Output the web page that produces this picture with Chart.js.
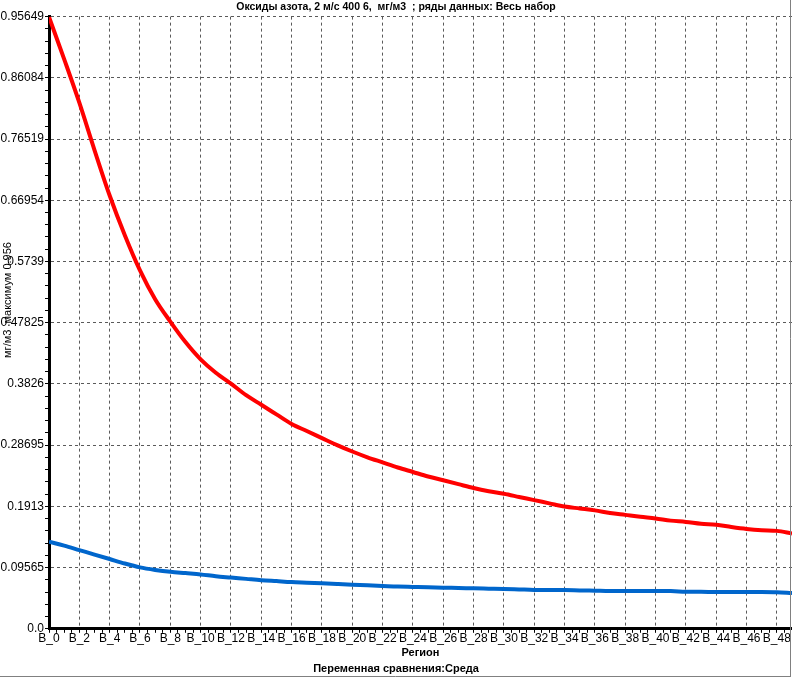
<!DOCTYPE html>
<html>
<head>
<meta charset="utf-8">
<script src="https://cdn.jsdelivr.net/npm/chart.js@4/dist/chart.umd.min.js"></script>
<style>
  html, body { margin: 0; padding: 0; background: #fff; }
  #wrap { width: 792px; height: 677px; }
</style>
</head>
<body>
<div id="wrap"><canvas id="nox-chart" width="792" height="677"></canvas></div>
<script>
// Data
const categories = Array.from({ length: 50 }, (_, i) => "B_" + i);

const noxMax = [
  0.956, 0.89, 0.822, 0.748, 0.677, 0.615, 0.56, 0.515, 0.48, 0.448,
  0.421, 0.4, 0.383, 0.365, 0.35, 0.335, 0.32, 0.309, 0.298, 0.287,
  0.277, 0.268, 0.26, 0.252, 0.245, 0.238, 0.232, 0.226, 0.22, 0.215,
  0.211, 0.206, 0.201, 0.196, 0.191, 0.188, 0.185, 0.181, 0.178, 0.175,
  0.1725, 0.169, 0.167, 0.164, 0.1625, 0.159, 0.156, 0.154, 0.153, 0.149,
];

const noxMin = [
  0.136, 0.13, 0.123, 0.116, 0.109, 0.102, 0.096, 0.092, 0.089, 0.087,
  0.085, 0.082, 0.08, 0.078, 0.076, 0.0745, 0.073, 0.072, 0.071, 0.07,
  0.069, 0.068, 0.067, 0.066, 0.0655, 0.065, 0.0643, 0.0638, 0.0632, 0.0627,
  0.0622, 0.0615, 0.0608, 0.0607, 0.0606, 0.06, 0.0595, 0.059, 0.059, 0.059,
  0.059, 0.059, 0.0578, 0.0577, 0.0576, 0.0575, 0.0575, 0.0574, 0.057, 0.056,
];

const yTickValues = [0, 0.09565, 0.1913, 0.28695, 0.3826, 0.47825, 0.5739, 0.66954, 0.76519, 0.86084, 0.95649];
const yTickLabels = ["0.0", "0.09565", "0.1913", "0.28695", "0.3826", "0.47825", "0.5739", "0.66954", "0.76519", "0.86084", "0.95649"];

const titleText = "Оксиды азота, 2 м/с 400 6,  мг/м3  ; ряды данных: Весь набор";
const yTitle = "мг/м3  максимум 0.956";
const xTitle = "Регион";
const footText = "Переменная сравнения:Среда";

const FONT = "'Liberation Sans', Arial, sans-serif";
const GRID = "#5a5a5a";

// minor ticks: 5 steps between y labels, every half category on x
const yTicks = [];
yTickValues.forEach((v, k) => {
  yTicks.push({ value: v });
  if (k < yTickValues.length - 1) {
    const step = (yTickValues[k + 1] - v) / 5;
    for (let m = 1; m < 5; m++) yTicks.push({ value: v + step * m });
  }
});
const xTicks = [];
for (let i = 0; i <= (categories.length - 1) * 2; i++) xTicks.push({ value: i / 2 });

// window frame + y axis caption (sits a bit above the axis middle)
const frame = {
  id: "frame",
  afterDraw(chart) {
    const ctx = chart.ctx;
    ctx.save();
    ctx.strokeStyle = "#808080";
    ctx.lineWidth = 1;
    ctx.beginPath();
    ctx.moveTo(790.5, 0);
    ctx.lineTo(790.5, 677);
    ctx.moveTo(0, 676.5);
    ctx.lineTo(791, 676.5);
    ctx.stroke();

    ctx.translate(8, 300);
    ctx.rotate(-Math.PI / 2);
    ctx.fillStyle = "#000";
    ctx.font = "11px " + FONT;
    ctx.textAlign = "center";
    ctx.textBaseline = "middle";
    ctx.fillText(yTitle, 0, 0);
    ctx.restore();
  },
};

const data = {
  datasets: [
    {
      label: "max",
      data: noxMax.map((v, i) => ({ x: i, y: v })),
      borderColor: "#ff0000",
      borderWidth: 4,
      pointRadius: 0,
      cubicInterpolationMode: "monotone",
    },
    {
      label: "min",
      data: noxMin.map((v, i) => ({ x: i, y: v })),
      borderColor: "#0066cc",
      borderWidth: 4,
      pointRadius: 0,
      cubicInterpolationMode: "monotone",
    },
  ],
};

const config = {
  type: "line",
  data: data,
  plugins: [frame],
  options: {
    responsive: false,
    animation: false,
    devicePixelRatio: 1,
    layout: { padding: { left: 0, right: 0, top: 0, bottom: 1 } },
    plugins: {
      legend: { display: false },
      tooltip: { enabled: false },
      title: {
        display: true,
        text: titleText,
        color: "#000",
        font: { family: FONT, size: 10.5, weight: "bold" },
        padding: { top: 1, bottom: 3 },
      },
      subtitle: {
        display: true,
        position: "bottom",
        text: footText,
        color: "#000",
        font: { family: FONT, size: 11, weight: "bold" },
        padding: { top: 3, bottom: 0 },
      },
    },
    scales: {
      x: {
        type: "linear",
        min: 0,
        max: categories.length - 1,
        afterBuildTicks: (scale) => { scale.ticks = xTicks.map((t) => ({ ...t })); },
        afterFit: (scale) => { scale.height = 31; },
        ticks: {
          autoSkip: false,
          maxRotation: 0,
          padding: -1,
          color: "#000",
          font: { family: FONT, size: 12 },
          callback: (value) => (Number.isInteger(value) && value % 2 === 0 ? categories[value] : ""),
        },
        grid: {
          color: (c) => (c.tick && Number.isInteger(c.tick.value) && c.tick.value % 2 === 0 ? GRID : "transparent"),
          tickColor: "#000",
          tickLength: 4,
          lineWidth: 1,
        },
        border: { color: "#000", width: 3, dash: [3, 3] },
        title: {
          display: true,
          text: xTitle,
          color: "#000",
          font: { family: FONT, size: 11, weight: "bold" },
          padding: { top: 0, bottom: 0 },
        },
      },
      y: {
        type: "linear",
        min: 0,
        max: 0.95649,
        afterBuildTicks: (scale) => { scale.ticks = yTicks.map((t) => ({ ...t })); },
        afterFit: (scale) => { scale.width = 49; },
        ticks: {
          autoSkip: false,
          padding: 1,
          color: "#000",
          font: { family: FONT, size: 12 },
          callback: (value) => {
            const k = yTickValues.indexOf(value);
            return k >= 0 ? yTickLabels[k] : "";
          },
        },
        grid: {
          color: (c) => (c.tick && yTickValues.includes(c.tick.value) ? GRID : "transparent"),
          tickColor: "#000",
          tickLength: 4,
          lineWidth: 1,
        },
        border: { color: "#000", width: 3, dash: [3, 3] },
      },
    },
  },
};

const noxChart = new Chart(document.getElementById("nox-chart"), config);
</script>
</body>
</html>
